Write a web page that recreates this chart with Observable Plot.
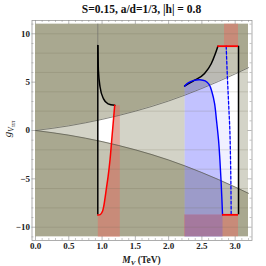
<!DOCTYPE html>
<html><head><meta charset="utf-8">
<script src="https://cdn.jsdelivr.net/npm/d3@7"></script>
<script src="https://cdn.jsdelivr.net/npm/@observablehq/plot@0.6"></script>
<style>html,body{margin:0;padding:0;background:#fff;overflow:hidden} svg{display:block}</style>
</head><body><div id="chart"></div>
<script>
const title = "S=0.15, a/d=1/3, |h| = 0.8";
// plot region
const mMin = 0, mMax = 3.2, gMin = -11, gMax = 11;
// cone boundary (outside = olive excluded region)
const coneM     = [0, 0.5, 1.0, 1.5, 2.0, 2.5, 3.0, 3.2];
const coneUpper = [0, 0.48, 1.15, 2.0, 3.05, 4.35, 5.85, 6.5];
const coneLower = [0, -0.48, -1.15, -2.0, -3.05, -4.35, -5.85, -6.5];
// left allowed region
const leftEdgeM = 0.936;
const blackLeftM = [0.936, 0.945, 0.97, 1.02, 1.09, 1.19];
const blackLeftG = [8.8, 6.2, 4.5, 3.3, 2.76, 2.6];
const redLeftM = [1.19, 1.17, 1.145, 1.12, 1.09, 1.065, 1.04, 1.02, 1.0, 0.97, 0.936];
const redLeftG = [2.6, 1.0, -1.0, -3.0, -4.8, -6.0, -7.2, -8.0, -8.45, -8.7, -8.75];
const pinkLeftM = [0.936, 1.267];
// right allowed region
const blackRightM = [2.24, 2.39, 2.54, 2.64, 2.70, 2.74];
const blackRightG = [4.6, 5.2, 5.9, 6.9, 7.9, 8.72];
const rightEdgeM = 3.05;
const capTopG = 8.72, capBottomG = -8.72;
const capTopM = [2.74, 3.05];
const capBottomM = [2.81, 3.05];
const blueM = [2.24, 2.30, 2.38, 2.47, 2.55, 2.61, 2.65, 2.69, 2.72, 2.75, 2.77, 2.79, 2.81];
const blueG = [4.6, 4.95, 5.18, 5.25, 5.12, 4.75, 4.0, 2.8, 1.0, -1.0, -3.0, -5.5, -8.72];
const dashM = [2.865, 2.88, 2.90, 2.92, 2.93, 2.94];
const dashG = [8.72, 6, 3, 0, -3, -8.72];
const pinkRightTopM = [2.84, 3.05];
const pinkRightBottomM = [2.24, 3.05];
// ticks
const xTicks = [0, 0.5, 1, 1.5, 2, 2.5, 3];
const xTickLabels = ["0.0", "0.5", "1.0", "1.5", "2.0", "2.5", "3.0"];
const yTicks = [-10, -5, 0, 5, 10];
const yTickLabels = ["\u221210", "\u22125", "0", "5", "10"];
const xMinor = d3.range(0, 33).map(i => i / 10).filter(v => !xTicks.some(t => Math.abs(t - v) < 1e-9));
const yMinor = d3.range(-11, 12).filter(v => v % 5 !== 0);
const gridG = [-10, -8, -6, -4, -2, 2, 4, 6, 8, 10];

const pts = (ms, gs) => ms.map((m, i) => ({m, g: gs[i]}));
const cone = coneM.map((m, i) => ({m, up: coneUpper[i], lo: coneLower[i]}));

const leftAllowed = [{m: leftEdgeM, g: redLeftG[redLeftG.length - 1]}, ...pts(blackLeftM, blackLeftG), ...pts(redLeftM, redLeftG)];
const rightAllowed = [{m: blackRightM[0], g: capBottomG}, ...pts(blackRightM, blackRightG), {m: rightEdgeM, g: capTopG}, {m: rightEdgeM, g: capBottomG}];
const lavender = [{m: blackRightM[0], g: capBottomG}, ...pts(blackRightM, blackRightG), ...pts(dashM, dashG)];
const blueFill = [{m: blueM[0], g: gMin}, ...pts(blueM, blueG), {m: blueM[blueM.length - 1], g: gMin}];
const pinkLeft = [...pts(redLeftM, redLeftG), {m: pinkLeftM[0], g: gMin}, {m: pinkLeftM[1], g: gMin}, {m: pinkLeftM[1], g: redLeftG[0]}];
const pinkRight = [
  {x1: pinkRightTopM[0], x2: pinkRightTopM[1], y1: capTopG, y2: gMax},
  {x1: pinkRightBottomM[0], x2: pinkRightBottomM[1], y1: gMin, y2: capBottomG}
];

const poly = (data, fill, opacity = 1) => Plot.line(data, {x: "m", y: "g", fill, fillOpacity: opacity, stroke: "none", curve: "linear"});
const curve = (data, stroke, extra = {}) => Plot.line(data, {x: "m", y: "g", stroke, strokeWidth: 1.5, curve: "monotone-y", ...extra});

const ff = "Liberation Serif, Times New Roman, serif";
const tickColor = "#8a8a8a";

const plot = Plot.plot({
  width: 266, height: 266,
  marginLeft: 31.5, marginRight: 14.5, marginTop: 20, marginBottom: 26,
  x: {domain: [mMin - 0.0526, mMax + 0.0526], axis: null},
  y: {domain: [gMin - 0.375, gMax + 0.375], axis: null},
  style: {fontFamily: ff, background: "white"},
  marks: [
    Plot.rect([0], {x1: () => mMin, x2: () => mMax, y1: () => gMin, y2: () => gMax, fill: "#d3d3c7"}),
    poly(leftAllowed, "#ffffff"),
    poly(rightAllowed, "#ffffff"),
    poly(lavender, "#6a6aff", 0.1),
    Plot.areaY(cone, {x: "m", y1: "up", y2: () => gMax, fill: "#5e5c30", fillOpacity: 0.36, curve: "monotone-x"}),
    Plot.areaY(cone, {x: "m", y1: () => gMin, y2: "lo", fill: "#5e5c30", fillOpacity: 0.36, curve: "monotone-x"}),
    poly(pinkLeft, "#ff5a50", 0.36),
    Plot.rect(pinkRight, {x1: "x1", x2: "x2", y1: "y1", y2: "y2", fill: "#ff5a50", fillOpacity: 0.36}),
    poly(blueFill, "#4a4aff", 0.28),
    Plot.ruleY(gridG, {x1: () => mMin, x2: () => mMax, stroke: "#6d6c52", strokeOpacity: 0.3, strokeWidth: 0.7}),
    Plot.line(cone, {x: "m", y: "up", stroke: "#55554a", strokeWidth: 0.7, curve: "monotone-x"}),
    Plot.line(cone, {x: "m", y: "lo", stroke: "#55554a", strokeWidth: 0.7, curve: "monotone-x"}),
    // thin continuation above left black edge
    Plot.ruleX([leftEdgeM], {y1: () => blackLeftG[0], y2: () => gMax, stroke: "#666", strokeWidth: 0.6}),
    // left black boundary
    Plot.ruleX([leftEdgeM], {y1: () => redLeftG[redLeftG.length - 1], y2: () => blackLeftG[0], stroke: "black", strokeWidth: 1.5}),
    curve(pts(blackLeftM, blackLeftG), "black", {curve: "monotone-x"}),
    curve(pts(redLeftM, redLeftG), "#ff0000"),
    // right structure
    curve(pts(blackRightM, blackRightG), "black", {curve: "monotone-x"}),
    Plot.ruleX([rightEdgeM], {y1: () => capBottomG, y2: () => capTopG, stroke: "black", strokeWidth: 1.5}),
    Plot.line(pts(blueM, blueG), {x: "m", y: "g", stroke: "#0000ff", strokeWidth: 1.4, curve: "catmull-rom"}),
    Plot.line(pts(dashM, dashG), {x: "m", y: "g", stroke: "#0000ff", strokeWidth: 1.3, strokeDasharray: "3,2", curve: "monotone-y"}),
    Plot.ruleY([capTopG], {x1: () => capTopM[0], x2: () => capTopM[1], stroke: "#ff0000", strokeWidth: 1.8}),
    Plot.ruleY([capBottomG], {x1: () => capBottomM[0], x2: () => capBottomM[1], stroke: "#ff0000", strokeWidth: 1.8}),
    // frame & ticks
    Plot.frame({stroke: "#9a9a9a", strokeWidth: 0.8}),
    Plot.ruleX(xTicks, {x: d => d, insetTop: 216, stroke: tickColor, strokeWidth: 0.6}),
    Plot.ruleX(xTicks, {x: d => d, insetBottom: 216, stroke: tickColor, strokeWidth: 0.6}),
    Plot.ruleX(xMinor, {x: d => d, insetTop: 218, stroke: tickColor, strokeWidth: 0.5}),
    Plot.ruleX(xMinor, {x: d => d, insetBottom: 218, stroke: tickColor, strokeWidth: 0.5}),
    Plot.ruleY(yTicks, {y: d => d, insetRight: 216, stroke: tickColor, strokeWidth: 0.6}),
    Plot.ruleY(yTicks, {y: d => d, insetLeft: 216, stroke: tickColor, strokeWidth: 0.6}),
    Plot.ruleY(yMinor, {y: d => d, insetRight: 218, stroke: tickColor, strokeWidth: 0.5}),
    Plot.ruleY(yMinor, {y: d => d, insetLeft: 218, stroke: tickColor, strokeWidth: 0.5}),
    Plot.text(xTicks, {x: d => d, text: (d, i) => xTickLabels[i], frameAnchor: "bottom", dy: 6, lineAnchor: "middle", fontWeight: "bold", fontSize: 9, fill: "#222"}),
    Plot.text(yTicks, {y: d => d, text: (d, i) => yTickLabels[i], frameAnchor: "left", dx: -2, textAnchor: "end", fontWeight: "bold", fontSize: 9, fill: "#222"})
  ]
});
document.getElementById("chart").appendChild(plot);

const svg = d3.select(plot);
svg.append("text").attr("x", 141.5).attr("y", 13).attr("text-anchor", "middle")
  .attr("font-family", ff).attr("font-weight", "bold").attr("font-size", 11.5).attr("fill", "#111").text(title);

const xl = svg.append("text").attr("x", 141.5).attr("y", 263).attr("text-anchor", "middle")
  .attr("font-family", ff).attr("font-weight", "bold").attr("font-size", 9.5).attr("fill", "#222");
xl.append("tspan").attr("font-style", "italic").text("M");
xl.append("tspan").attr("font-style", "italic").attr("font-size", 7).attr("dy", 2).text("V");
xl.append("tspan").attr("dy", -2).text(" (TeV)");

const yl = svg.append("text").attr("transform", "translate(11,129) rotate(-90)").attr("text-anchor", "middle")
  .attr("font-family", ff).attr("font-size", 11).attr("fill", "#222");
yl.append("tspan").attr("font-style", "italic").text("g");
yl.append("tspan").attr("font-style", "italic").attr("font-size", 7.5).attr("dy", 2.5).text("V");
yl.append("tspan").attr("font-style", "italic").attr("font-size", 6.5).attr("dy", 1).text("\u03c0\u03c0");
</script></body></html>
